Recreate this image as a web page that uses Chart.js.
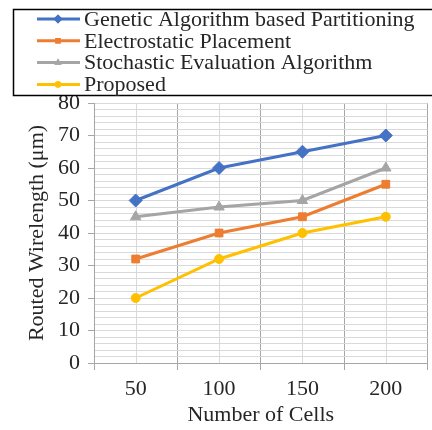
<!DOCTYPE html>
<html>
<head>
<meta charset="utf-8">
<script src="https://cdn.jsdelivr.net/npm/chart.js@4"></script>
<style>
  html, body { margin:0; padding:0; background:#fff; overflow:hidden; width:432px; height:430px; }
  canvas { display:block; }
</style>
</head>
<body>
<canvas id="chart" width="435" height="430"></canvas>
<script>
// data
const cells = ['50', '100', '150', '200'];
const seriesNames = ['Genetic Algorithm based Partitioning', 'Electrostatic Placement', 'Stochastic Evaluation Algorithm', 'Proposed'];
const genetic = [50, 60, 65, 70];
const electrostatic = [32, 40, 45, 55];
const stochastic = [45, 48, 50, 60];
const proposed = [20, 32, 40, 45];
const yMin = 0, yMax = 80, yMinorStep = 2, yLabelStep = 10;

const FONT = "'Liberation Serif', 'Times New Roman', serif";
const TEXT = '#262626';

function ds(label, data, color, style, r){
  return {
    label: label, data: data,
    borderColor: color, backgroundColor: color,
    borderWidth: 3, pointStyle: style, pointRadius: r, pointHoverRadius: r,
    pointBorderWidth: 1, tension: 0
  };
}

// center grid lines (light) at each category, like the Excel minor verticals
const centerLines = {
  id: 'centerLines',
  beforeDatasetsDraw(chart){
    const {ctx, chartArea, scales} = chart;
    ctx.save();
    ctx.strokeStyle = '#d9d9d9';
    ctx.lineWidth = 1;
    cells.forEach((c, i)=>{
      const x = Math.round(scales.x.getPixelForValue(i)) + 0.5;
      ctx.beginPath(); ctx.moveTo(x, chartArea.top); ctx.lineTo(x, chartArea.bottom); ctx.stroke();
    });
    ctx.restore();
  }
};

// boxed legend at the top, drawn from the datasets
const boxLegend = {
  id: 'boxLegend',
  afterDraw(chart){
    const ctx = chart.ctx;
    ctx.save();
    ctx.strokeStyle = '#000';
    ctx.lineWidth = 1.5;
    ctx.strokeRect(13.5, 9.5, 440, 86);
    ctx.font = '22px ' + FONT;
    ctx.textBaseline = 'middle';
    chart.data.datasets.forEach((d, i)=>{
      const y = 19 + i * 21.8;
      ctx.strokeStyle = d.borderColor; ctx.lineWidth = 3;
      ctx.beginPath(); ctx.moveTo(37, y); ctx.lineTo(80, y); ctx.stroke();
      ctx.fillStyle = d.backgroundColor;
      Chart.helpers.drawPoint(ctx, {pointStyle: d.pointStyle, radius: d.pointRadius * 0.7, borderWidth: 0}, 58, y);
      ctx.fill();
      ctx.fillStyle = TEXT;
      ctx.fillText(d.label, 84, y + 1);
    });
    ctx.restore();
  }
};

new Chart(document.getElementById('chart'), {
  type: 'line',
  data: {
    labels: cells,
    datasets: [
      ds(seriesNames[0], genetic, '#4472C4', 'rectRot', 6.5),
      ds(seriesNames[1], electrostatic, '#ED7D31', 'rect', 5.5),
      ds(seriesNames[2], stochastic, '#A5A5A5', 'triangle', 6),
      ds(seriesNames[3], proposed, '#FFC000', 'circle', 4.5)
    ]
  },
  options: {
    responsive: false,
    animation: false,
    layout: { padding: { top: 103, right: 0, bottom: 2, left: 0 } },
    plugins: { legend: { display: false }, tooltip: { enabled: false } },
    scales: {
      x: {
        offset: true,
        grid: { offset: true, color: '#a6a6a6', tickColor: '#a6a6a6', tickLength: 7, lineWidth: 1 },
        border: { color: '#a6a6a6' },
        ticks: { color: TEXT, font: { family: FONT, size: 22 }, padding: 6 },
        title: { display: true, text: 'Number of Cells', color: TEXT, font: { family: FONT, size: 22 }, padding: { top: 0, bottom: 0 } },
        afterFit(scale){ scale.height = 65; }
      },
      y: {
        min: yMin, max: yMax,
        grid: {
          color: '#d9d9d9',
          tickLength: 6,
          tickColor: c => (c.tick && c.tick.value % yLabelStep === 0) ? '#a6a6a6' : 'rgba(0,0,0,0)'
        },
        border: { color: '#a6a6a6' },
        ticks: {
          stepSize: yMinorStep, autoSkip: false, color: TEXT,
          font: { family: FONT, size: 22 }, padding: 8,
          callback: v => v % yLabelStep === 0 ? String(v) : ''
        },
        title: { display: true, text: 'Routed Wirelength (μm)', color: TEXT, font: { family: FONT, size: 22 }, padding: { top: 24, bottom: 0 } },
        afterFit(scale){ scale.width = 94; }
      }
    }
  },
  plugins: [centerLines, boxLegend]
});
</script>
</body>
</html>
